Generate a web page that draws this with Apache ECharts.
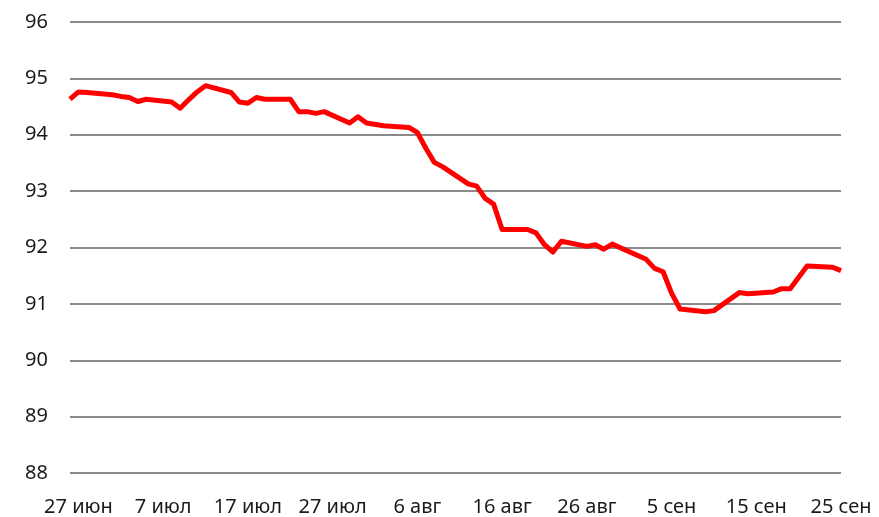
<!DOCTYPE html>
<html>
<head>
<meta charset="utf-8">
<script src="https://cdn.jsdelivr.net/npm/echarts@6/dist/echarts.min.js"></script>
<style>
  html, body { margin: 0; padding: 0; background: #fff; }
  #chart { width: 879px; height: 517px; }
</style>
</head>
<body>
<div id="chart"></div>
<script>
// calendar of the x axis: 26 июн .. 25 сен, one category per day
var months = [
    { name: 'июн', from: 26, to: 30 },
    { name: 'июл', from: 1, to: 31 },
    { name: 'авг', from: 1, to: 31 },
    { name: 'сен', from: 1, to: 25 }
];

// days that have a value (others are skipped and joined by the line)
var pointDates = [
    '26 июн', '27 июн', '28 июн', '1 июл', '2 июл', '3 июл', '4 июл', '5 июл',
    '8 июл', '9 июл', '10 июл', '11 июл', '12 июл', '15 июл', '16 июл', '17 июл',
    '18 июл', '19 июл', '22 июл', '23 июл', '24 июл', '25 июл', '26 июл', '29 июл',
    '30 июл', '31 июл', '2 авг', '5 авг', '6 авг', '7 авг', '8 авг', '9 авг',
    '12 авг', '13 авг', '14 авг', '15 авг', '16 авг', '19 авг', '20 авг', '21 авг',
    '22 авг', '23 авг', '26 авг', '27 авг', '28 авг', '29 авг', '2 сен', '3 сен',
    '4 сен', '5 сен', '6 сен', '9 сен', '10 сен', '13 сен', '14 сен', '17 сен',
    '18 сен', '19 сен', '21 сен', '24 сен', '25 сен'
];
var pointValues = [
    94.63, 94.76, 94.75, 94.71, 94.68, 94.66, 94.59, 94.63,
    94.58, 94.47, 94.62, 94.76, 94.87, 94.75, 94.58, 94.56,
    94.66, 94.63, 94.63, 94.41, 94.41, 94.38, 94.41, 94.21,
    94.32, 94.21, 94.16, 94.13, 94.04, 93.76, 93.51, 93.43,
    93.13, 93.09, 92.87, 92.77, 92.32, 92.32, 92.26, 92.05,
    91.92, 92.11, 92.02, 92.05, 91.97, 92.06, 91.79, 91.63,
    91.57, 91.19, 90.91, 90.86, 90.88, 91.20, 91.18, 91.21,
    91.27, 91.27, 91.67, 91.65, 91.59
];

var yMin = 88, yMax = 96;

var categories = [];
months.forEach(function (m) {
    for (var d = m.from; d <= m.to; d++) categories.push(d + ' ' + m.name);
});

var seriesData = categories.map(function (c) {
    var i = pointDates.indexOf(c);
    return i >= 0 ? pointValues[i] : null;
});

var chart = echarts.init(document.getElementById('chart'));
chart.setOption({
    animation: false,
    grid: { left: 70, right: 38, top: 22, bottom: 44 },
    xAxis: {
        type: 'category',
        data: categories,
        boundaryGap: false,
        axisLine: { show: false },
        axisTick: { show: false },
        axisLabel: {
            interval: function (idx) { return (idx - 1) % 10 === 0; },
            color: '#1a1a1a',
            fontFamily: 'Noto Sans',
            fontSize: 20,
            margin: 24
        },
        splitLine: { show: false }
    },
    yAxis: {
        type: 'value',
        min: yMin,
        max: yMax,
        interval: 1,
        axisLine: { show: false },
        axisTick: { show: false },
        axisLabel: {
            color: '#1a1a1a',
            fontFamily: 'Noto Sans',
            fontSize: 20,
            margin: 22
        },
        splitLine: { lineStyle: { color: '#8a8a8a', width: 2 } }
    },
    series: [{
        type: 'line',
        data: seriesData,
        connectNulls: true,
        showSymbol: false,
        symbol: 'none',
        lineStyle: { color: '#ff0000', width: 5, join: 'round' }
    }]
});
</script>
</body>
</html>
